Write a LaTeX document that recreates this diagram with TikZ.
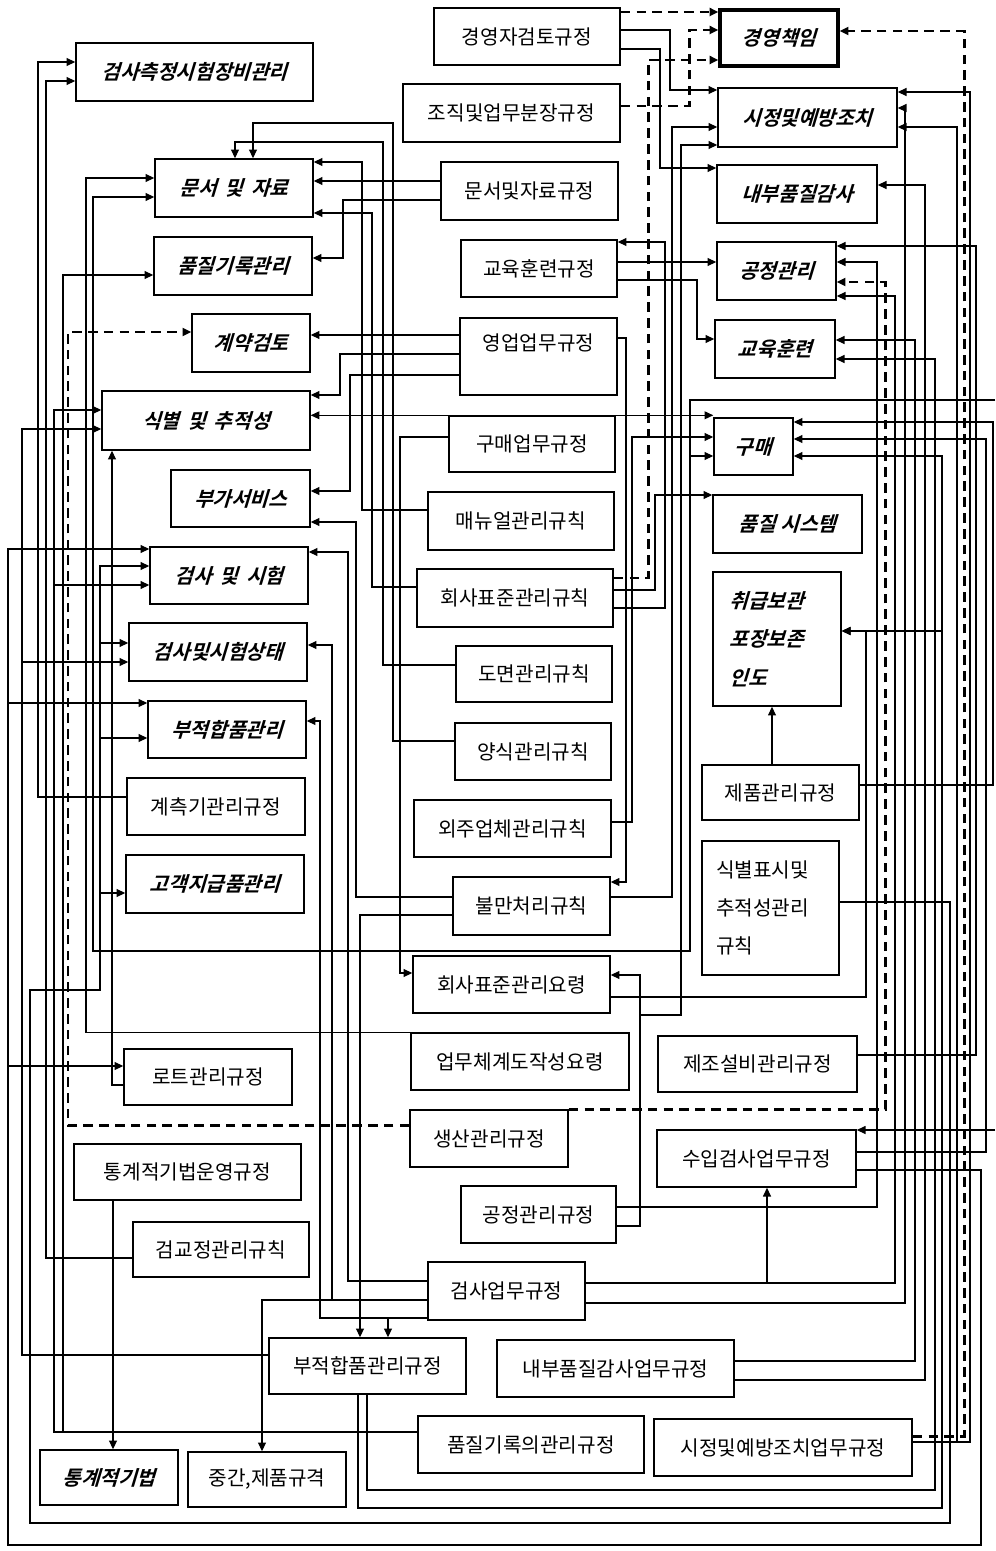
\documentclass[tikz,border=0pt]{standalone}
\usepackage{fontspec}
\usepackage{tikz}
\usetikzlibrary{arrows.meta}
\newfontfamily\kr{Noto Sans CJK KR}
\newfontfamily\krbi{Noto Sans CJK KR}[UprightFont=* Bold, FakeSlant=0.3]

\tikzset{
  regbox/.style={draw, line width=0.8pt, inner sep=2pt, font=\kr\fontsize{11.5}{14}\selectfont},
  topicbox/.style={draw, line width=0.8pt, inner sep=2pt, font=\krbi\fontsize{11.5}{14}\selectfont},
  sz/.style 2 args={minimum width=#1*0.02cm, minimum height=#2*0.02cm},
  wire/.style={line width=0.7pt},
  dline/.style={line width=1.7pt, dash pattern=on 5.5pt off 3.5pt}
}

\begin{document}
\begin{tikzpicture}[x=0.02cm, y=-0.02cm, >={Triangle[length=5pt,width=4.5pt]}]
    \useasboundingbox (0,0) rectangle (995,1551);

    % Left column
    \node [topicbox, sz={237}{58}] (jangbi) at (194.5,72) {검사측정시험장비관리};
    \node [topicbox, sz={158}{58}] (munseo) at (234,188) {문서 \,및 \,자료};
    \node [topicbox, sz={158}{58}] (pumgirok) at (233,266) {품질기록관리};
    \node [topicbox, sz={118}{58}] (gyeyak) at (251,343) {계약검토};
    \node [topicbox, sz={208}{59}] (sikbyeol) at (206,420.5) {식별 \,및 \,추적성};
    \node [topicbox, sz={139}{57}] (buga) at (240.5,498.5) {부가서비스};
    \node [topicbox, sz={158}{57}] (geomsa) at (229,575.5) {검사 \,및 \,시험};
    \node [topicbox, sz={178}{58}] (sangtae) at (218,652) {검사및시험상태};
    \node [topicbox, sz={158}{57}] (bujeok) at (227,729.5) {부적합품관리};
    \node [regbox, sz={178}{57}] (gyecheuk) at (216,806.5) {계측기관리규정};
    \node [topicbox, sz={178}{58}] (gogaek) at (215,884) {고객지급품관리};
    \node [regbox, sz={168}{56}] (lot) at (208,1077) {로트관리규정};
    \node [regbox, sz={227}{56}] (tonggyereg) at (187.5,1172) {통계적기법운영규정};
    \node [regbox, sz={176}{55}] (geomgyo) at (221,1249.5) {검교정관리규칙};
    \node [topicbox, sz={138}{55}] (tonggye) at (109,1477.5) {통계적기법};
    \node [regbox, sz={158}{55}] (junggan) at (267,1479.5) {중간,제품규격};
    \node [regbox, sz={197}{56}] (rbujeok) at (367.5,1366) {부적합품관리규정};

    % Middle column
    \node [regbox, sz={186}{57}] (gyeongyeong) at (527,36.5) {경영자검토규정};
    \node [regbox, sz={217}{58}] (jojik) at (511.5,113) {조직및업무분장규정};
    \node [regbox, sz={177}{58}] (rmunseo) at (529.5,191) {문서및자료규정};
    \node [regbox, sz={156}{57}] (rgyoyuk) at (539,268.5) {교육훈련규정};
    \node [regbox, sz={157}{77}, align=center] (yeongeop) at (538.5,356.5) {영업업무규정\\[2pt]\mbox{}};
    \node [regbox, sz={166}{56}] (rgumae) at (532,444) {구매업무규정};
    \node [regbox, sz={186}{58}] (manual) at (521,521) {매뉴얼관리규칙};
    \node [regbox, sz={196}{58}] (hoesa) at (515,598) {회사표준관리규칙};
    \node [regbox, sz={156}{56}] (domyeon) at (534,674) {도면관리규칙};
    \node [regbox, sz={156}{57}] (yangsik) at (533,751.5) {양식관리규칙};
    \node [regbox, sz={197}{57}] (oeju) at (512.5,828.5) {외주업체관리규칙};
    \node [regbox, sz={157}{58}] (bulman) at (531.5,906) {불만처리규칙};
    \node [regbox, sz={197}{57}] (ryoryeong) at (511.5,984.5) {회사표준관리요령};
    \node [regbox, sz={218}{57}] (eommu) at (520,1061.5) {업무체계도작성요령};
    \node [regbox, sz={158}{57}] (saengsan) at (489,1138.5) {생산관리규정};
    \node [regbox, sz={155}{57}] (rgongjeong) at (538.5,1214.5) {공정관리규정};
    \node [regbox, sz={157}{58}] (rgeomsa) at (506.5,1291) {검사업무규정};
    \node [regbox, sz={237}{57}] (rgamsa) at (615.5,1368.5) {내부품질감사업무규정};
    \node [regbox, sz={226}{57}] (rpumgirok) at (531,1444.5) {품질기록의관리규정};
    \node [regbox, sz={258}{57}] (rsijeong) at (783,1447.5) {시정및예방조치업무규정};

    % Right column
    \node [topicbox, sz={118}{56}, line width=1.8pt] (chaegim) at (779,38) {경영책임};
    \node [topicbox, sz={179}{59}] (sijeong) at (807.5,117.5) {시정및예방조치};
    \node [topicbox, sz={160}{58}] (gamsa) at (797,194) {내부품질감사};
    \node [topicbox, sz={119}{58}] (gongjeong) at (776.5,271) {공정관리};
    \node [topicbox, sz={120}{58}] (gyoyuk) at (775,349) {교육훈련};
    \node [topicbox, sz={79}{57}] (gumae) at (753.5,446.5) {구매};
    \node [topicbox, sz={149}{58}] (system) at (787.5,524) {품질 시스템};
    \node [topicbox, sz={128}{134}, text width=1.9cm, align=left, font=\krbi\fontsize{11.5}{22}\selectfont] (chwigeup) at (777,639) {취급보관\\포장보존\\인도};
    \node [regbox, sz={157}{55}] (jepum) at (780.5,792.5) {제품관리규정};
    \node [regbox, sz={137}{134}, text width=2.18cm, align=left, font=\kr\fontsize{11.5}{21.5}\selectfont] (rsikbyeol) at (770.5,908) {식별표시및\\추적성관리\\규칙};
    \node [regbox, sz={199}{56}] (jejo) at (757.5,1064) {제조설비관리규정};
    \node [regbox, sz={199}{57}] (suip) at (756.5,1158.5) {수입검사업무규정};

    \coordinate (offA) at (995,400);
    \coordinate (offB) at (995,1130);

    % Management links (dashed)
    \draw [dline, ->] (gyeongyeong.east |- 0,12) -- (chaegim.west |- 0,12);
    \draw [dline, ->] (jojik.east |- 0,106) -| (689,30) -- (chaegim.west |- 0,30);
    \draw [dline, ->] (hoesa.east |- 0,578) -| (648,60) -- (chaegim.west |- 0,60);
    \draw [dline, ->] (rsijeong.east |- 0,1436) -| (964,31) -- (chaegim.east |- 0,31);
    \draw [dline, ->] (saengsan.north east) -| (885,282) -- (gongjeong.east |- 0,282);
    \draw [dline, ->] (saengsan.west |- 0,1125) -| (68,332) -- (gyeyak.west |- 0,332);

    % Inner gutter, right side
    \draw [wire, ->] (gyeongyeong.east |- 0,30) -| (670,90) -- (sijeong.west |- 0,90);
    \draw [wire, ->] (gyeongyeong.east |- 0,49) -| (660,168) -- (gamsa.west |- 0,168);
    \draw [wire, ->] (bulman.east |- 0,897) -| (672,127) -- (sijeong.west |- 0,127);
    \draw [wire, ->] (rgongjeong.east |- 0,1226) -| (640,975) -- (ryoryeong.east |- 0,975);
    \draw [wire, ->] (rgongjeong.east |- 0,1226) -- (640,1226) -- (640,1015) -| (681,145) -- (sijeong.west |- 0,145);
    \draw [wire, ->] (rgyoyuk.east |- 0,262) -- (gongjeong.west |- 0,262);
    \draw [wire, ->] (rgyoyuk.east |- 0,280) -| (697,339) -- (gyoyuk.west |- 0,339);
    \draw [wire, ->] (hoesa.east |- 0,608) -| (665,242) -- (rgyoyuk.east |- 0,242);
    \draw [wire, ->] (hoesa.east |- 0,590) -| (655,495) -- (system.west |- 0,495);
    \draw [wire, ->] (oeju.east |- 0,822) -| (632,437) -- (gumae.west |- 0,437);
    \draw [wire, ->] (offA) -| (690,456) -- (gumae.west |- 0,456);
    \draw [wire, ->] (offA) -| (690,951) -| (93,197) -- (munseo.west |- 0,197);
    \draw [wire, ->] (yeongeop.east |- 0,338) -| (626,882) -- (bulman.east |- 0,882);
    \draw [wire, ->] (ryoryeong.east |- 0,997) -| (866,631) -- (chwigeup.east |- 0,631);
    \draw [wire, ->] (rgumae.north east) -- (gumae.west |- rgumae.north east);
    \draw [wire, ->] (rgumae.north west) -- (sikbyeol.east |- rgumae.north west);
    \draw [wire, ->] (jepum.north -| 772,0) -- (chwigeup.south -| 772,0);

    % Inner gutter, left side
    \draw [wire, ->] (rmunseo.west |- 0,181) -- (munseo.east |- 0,181);
    \draw [wire, ->] (rmunseo.west |- 0,200) -| (343,258) -- (pumgirok.east |- 0,258);
    \draw [wire, ->] (manual.west |- 0,510) -| (362,162) -- (munseo.east |- 0,162);
    \draw [wire, ->] (hoesa.west |- 0,587) -| (372,213) -- (munseo.east |- 0,213);
    \draw [wire, ->] (domyeon.west |- 0,665) -| (383,142) -| (munseo.north -| 235,0);
    \draw [wire, ->] (yangsik.west |- 0,741) -| (393,123) -| (munseo.north -| 253,0);
    \draw [wire, ->] (yeongeop.west |- 0,335) -- (gyeyak.east |- 0,335);
    \draw [wire, ->] (yeongeop.west |- 0,354) -| (340,395) -- (sikbyeol.east |- 0,395);
    \draw [wire, ->] (yeongeop.west |- 0,375) -| (350,491) -- (buga.east |- 0,491);
    \draw [wire, ->] (rgumae.west |- 0,437) -| (400,973) -- (ryoryeong.west |- 0,973);
    \draw [wire, ->] (bulman.west |- 0,897) -| (356,522) -- (buga.east |- 0,522);
    \draw [wire, ->] (bulman.west |- 0,915) -| (rbujeok.north -| 360,0);
    \draw [wire, ->] (rgeomsa.west |- 0,1281) -| (348,552) -- (geomsa.east |- 0,552);
    \draw [wire, ->] (rgeomsa.west |- 0,1300) -| (332,645) -- (sangtae.east |- 0,645);
    \draw [wire, ->] (rgeomsa.west |- 0,1300) -| (junggan.north -| 262,0);
    \draw [wire, ->] (rgeomsa.west |- 0,1318) -| (320,721) -- (bujeok.east |- 0,721);
    \draw [wire, ->] (rgeomsa.west |- 0,1318) -| (rbujeok.north -| 388,0);
    \draw [wire, ->] (tonggyereg.south -| 113,0) -- (tonggye.north -| 113,0);

    % Outer gutter, right side
    \draw [wire, ->] (rgeomsa.east |- 0,1283) -| (suip.south -| 767,0);
    \draw [wire, ->] (rgeomsa.east |- 0,1283) -| (895,296) -- (gongjeong.east |- 0,296);
    \draw [wire, ->] (rgeomsa.east |- 0,1303) -| (905,108) -- (sijeong.east |- 0,108);
    \draw [wire, ->] (rgamsa.east |- 0,1361) -| (915,340) -- (gyoyuk.east |- 0,340);
    \draw [wire, ->] (rgamsa.east |- 0,1380) -| (925,185) -- (gamsa.east |- 0,185);
    \draw [wire, ->] (rgongjeong.east |- 0,1207) -| (877,262) -- (gongjeong.east |- 0,262);
    \draw [wire, ->] (jejo.east |- 0,1055) -| (976,246) -- (gongjeong.east |- 0,246);
    \draw [wire, ->] (jepum.east |- 0,785) -| (993,422) -- (gumae.east |- 0,422);
    \draw [wire, ->] (suip.east |- 0,1152) -| (986,439) -- (gumae.east |- 0,439);
    \draw [wire, ->] (offB) -- (suip.east |- offB);
    \draw [wire, ->] (rsijeong.east |- 0,1442) -| (970,92) -- (sijeong.east |- 0,92);
    \draw [wire, ->] (rsijeong.east |- 0,1442) -| (957,127) -- (sijeong.east |- 0,127);
    \draw [wire, ->] (rbujeok.south -| 367,0) |- (935,1490) |- (gyoyuk.east |- 0,359);
    \draw [wire, ->] (rbujeok.south -| 358,0) |- (942,1508) |- (gumae.east |- 0,456);
    \draw [wire, ->] (rbujeok.south -| 358,0) |- (942,1508) |- (chwigeup.east |- 0,631);

    % Outer loops round the bottom
    \draw [wire, ->] (rsikbyeol.east |- 0,902) -| (950,1523) -| (30,990) -| (100,566) -- (geomsa.west |- 0,566);
    \draw [wire, ->] (rsikbyeol.east |- 0,902) -| (950,1523) -| (30,990) -| (100,643) -- (sangtae.west |- 0,643);
    \draw [wire, ->] (rsikbyeol.east |- 0,902) -| (950,1523) -| (30,990) -| (100,738) -- (bujeok.west |- 0,738);
    \draw [wire, ->] (rsikbyeol.east |- 0,902) -| (950,1523) -| (30,990) -| (100,893) -- (gogaek.west |- 0,893);
    \draw [wire, ->] (suip.east |- 0,1170) -| (981,1545) -| (8,549) -- (geomsa.west |- 0,549);
    \draw [wire, ->] (suip.east |- 0,1170) -| (981,1545) -| (8,703) -- (bujeok.west |- 0,703);
    \draw [wire, ->] (suip.east |- 0,1170) -| (981,1545) -| (8,1066) -- (lot.west |- 0,1066);

    % Outer gutter, left side
    \draw [wire, ->] (gyecheuk.west |- 0,797) -| (38,62) -- (jangbi.west |- 0,62);
    \draw [wire, ->] (geomgyo.west |- 0,1258) -| (46,81) -- (jangbi.west |- 0,81);
    \draw [wire, ->] (rbujeok.west |- 0,1355) -| (22,429) -- (sikbyeol.west |- 0,429);
    \draw [wire, ->] (rbujeok.west |- 0,1355) -| (22,662) -- (sangtae.west |- 0,662);
    \draw [wire, ->] (rpumgirok.west |- 0,1432) -| (54,410) -- (sikbyeol.west |- 0,410);
    \draw [wire, ->] (rpumgirok.west |- 0,1432) -| (54,585) -- (geomsa.west |- 0,585);
    \draw [wire, ->] (rpumgirok.west |- 0,1432) -| (63,275) -- (pumgirok.west |- 0,275);
    \draw [wire, ->] (eommu.north west) -| (86,178) -- (munseo.west |- 0,178);
    \draw [wire, ->] (lot.west |- 0,1085) -| (sikbyeol.south -| 112,0);
\end{tikzpicture}
\end{document}
